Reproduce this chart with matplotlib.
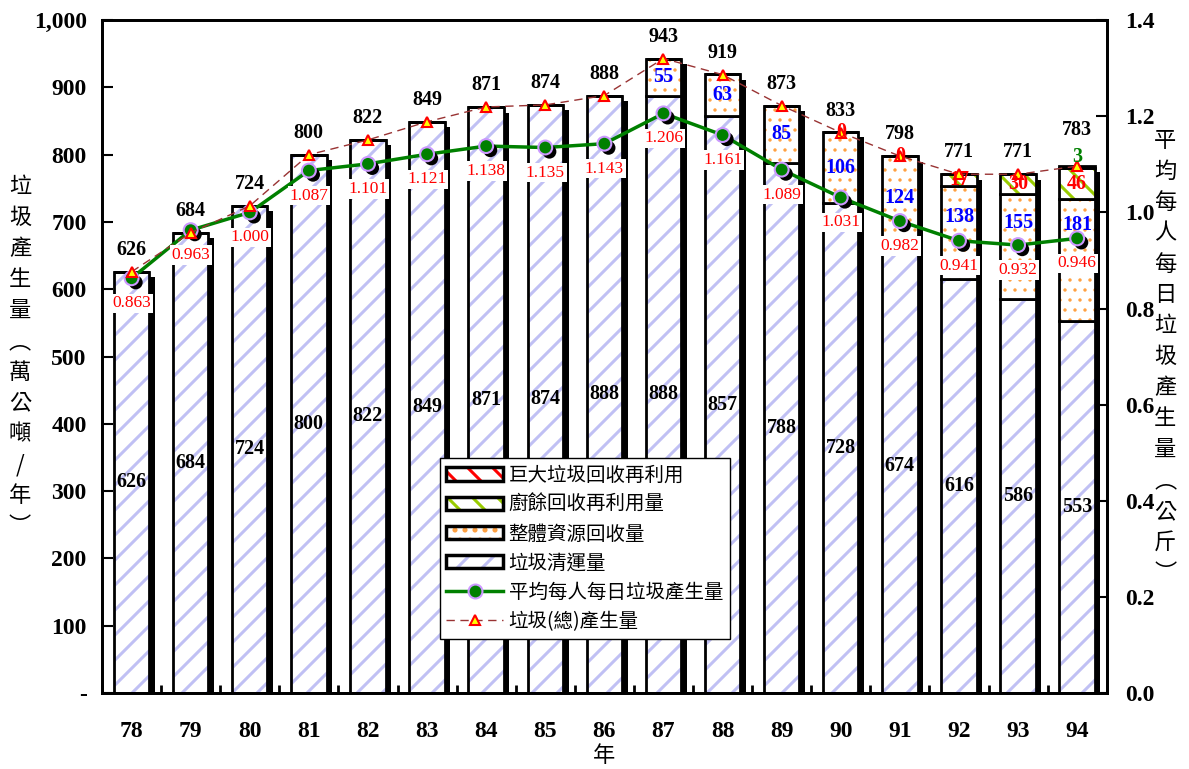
import numpy as np
import matplotlib
matplotlib.use('Agg')
import matplotlib.pyplot as plt
import matplotlib.patheffects as pe
import matplotlib.hatch as mhatch
from matplotlib.patches import Patch
from matplotlib.lines import Line2D
from matplotlib.ticker import FuncFormatter, MultipleLocator

# --- data (民國年) ---
years = ['78', '79', '80', '81', '82', '83', '84', '85', '86',
         '87', '88', '89', '90', '91', '92', '93', '94']
total = [626, 684, 724, 800, 822, 849, 871, 874, 888,
         943, 919, 873, 833, 798, 771, 771, 783]
collected = [626, 684, 724, 800, 822, 849, 871, 874, 888,
             888, 857, 788, 728, 674, 616, 586, 553]
recycled = [None, None, None, None, None, None, None, None, None,
            55, 63, 85, 106, 124, 138, 155, 181]
food = [None, None, None, None, None, None, None, None, None,
        None, None, None, 0, 0, 17, 30, 46]
bulky = [None, None, None, None, None, None, None, None, None,
         None, None, None, None, None, None, None, 3]
per_capita = [0.863, 0.963, 1.000, 1.087, 1.101, 1.121, 1.138, 1.135, 1.143,
              1.206, 1.161, 1.089, 1.031, 0.982, 0.941, 0.932, 0.946]

# label nudges (pixels) where the original chart moved labels by hand
rec_label_up = [0, 0, 0, 0, 0, 0, 0, 0, 0, 0, 0, 0, 0, 0, 15, 24, 35]

SERIF = 'Liberation Serif'
CJK = ['Noto Sans CJK TC', 'DejaVu Sans']
plt.rcParams['hatch.linewidth'] = 2.2

# sparser stripes, denser dots than matplotlib's default hatch density
_orig_get_path = mhatch.get_path
mhatch.get_path = lambda pattern, density=6: _orig_get_path(pattern, 10 if '.' in pattern else 8)


def nz(a):
    return np.array([0 if v is None else v for v in a], dtype=float)


x = np.arange(len(years))
col = np.array(collected, dtype=float)
rec = nz(recycled)
fw = nz(food)
bk = nz(bulky)
w = 0.6

fig = plt.figure(figsize=(11.89, 7.69), dpi=100)
ax = fig.add_axes([0.0858, 0.0988, 0.845, 0.875])
ax2 = ax.twinx()

# shadow behind each bar
ax.bar(x, col + rec + fw + bk, w, color='k', linewidth=0,
       path_effects=[pe.SimplePatchShadow(offset=(4, -4), shadow_rgbFace='k', alpha=1.0)])

BLUE_H, DOT_H, GREEN_H, RED_H = '#c0c0f4', '#ffa040', '#99cc00', '#ff0000'
layers = [
    (col, 0, BLUE_H, '/', None),
    (rec, col, DOT_H, '.', 1.0),
    (fw, col + rec, GREEN_H, '\\', None),
    (bk, col + rec + fw, RED_H, '\\', None),
]
for h, b, c, ht, hlw in layers:
    bars = ax.bar(x, h, w, bottom=b, facecolor='white', edgecolor=c, hatch=ht, linewidth=0)
    if hlw is not None:
        for p in bars:
            if hasattr(p, 'set_hatch_linewidth'):
                p.set_hatch_linewidth(hlw)
    ax.bar(x, h, w, bottom=b, fill=False, edgecolor='k', linewidth=2)

# per capita line (right axis)
ax2.plot(x, per_capita, color='#008000', lw=2.5, zorder=3)
ax2.plot(x, per_capita, linestyle='none', marker='o', ms=10, mfc='#008000',
         mec='#cc99ff', mew=1.5, zorder=4,
         path_effects=[pe.withSimplePatchShadow(offset=(3, -3), shadow_rgbFace='k', alpha=1.0)])

# total line (left axis units)
ax2.plot(x, total, transform=ax.transData, color='#993333', lw=1, ls=(0, (6, 4)),
         marker='^', ms=7, mfc='#ffff00', mec='#ff0000', mew=1.5, zorder=5)

# labels
for i in range(len(years)):
    top_off = 22 if bulky[i] is None else 36
    ax2.annotate(str(total[i]), (i, total[i]), xycoords=ax.transData,
                 xytext=(0, top_off), textcoords='offset pixels', ha='center', va='center',
                 fontsize=14.5, fontweight='bold', family=SERIF, zorder=7)
    ax2.annotate(str(collected[i]), (i, col[i] / 2), xycoords=ax.transData,
                 ha='center', va='center', fontsize=14.5, fontweight='bold',
                 family=SERIF, zorder=7)
    if recycled[i] is not None:
        ax2.annotate(str(recycled[i]), (i, col[i] + rec[i] / 2), xycoords=ax.transData,
                     xytext=(0, rec_label_up[i]), textcoords='offset pixels',
                     ha='center', va='center', fontsize=14.5, fontweight='bold',
                     family=SERIF, color='#0000ff', zorder=7)
    if food[i] is not None:
        ax2.annotate(str(food[i]), (i, col[i] + rec[i] + fw[i] / 2), xycoords=ax.transData,
                     ha='center', va='center', fontsize=14.5, fontweight='bold',
                     family=SERIF, color='#ff0000', zorder=7)
    if bulky[i] is not None:
        ax2.annotate(str(bulky[i]), (i, col[i] + rec[i] + fw[i] + bk[i]), xycoords=ax.transData,
                     xytext=(0, 9), textcoords='offset pixels',
                     ha='center', va='center', fontsize=14.5, fontweight='bold',
                     family=SERIF, color='#008000', zorder=7)
    ax2.annotate(f'{per_capita[i]:.3f}', (i, per_capita[i]), xytext=(0, -25),
                 textcoords='offset pixels', ha='center', va='center', color='#ff0000',
                 fontsize=12.5, family=SERIF, zorder=6,
                 bbox=dict(boxstyle='square,pad=0.1', fc='white', ec='none'))

# axes
ax.set_xlim(-0.5, len(years) - 0.5)
ax.set_ylim(0, 1000)
ax2.set_ylim(0, 1.4)
ax.yaxis.set_major_locator(MultipleLocator(100))
ax.yaxis.set_major_formatter(FuncFormatter(lambda v, p: '-' if v == 0 else f'{int(v):,}'))
ax2.yaxis.set_major_locator(MultipleLocator(0.2))
ax2.yaxis.set_major_formatter(FuncFormatter(lambda v, p: f'{v:.1f}'))
ax.set_xticks(x)
ax.set_xticklabels(years)
ax.set_xticks(np.arange(-0.5, len(years), 1.0), minor=True)
ax.tick_params(axis='x', which='major', length=0, pad=20)
ax.tick_params(axis='x', which='minor', direction='in', length=6, width=2)
ax.tick_params(axis='y', direction='in', length=8, width=1.5, pad=11)
ax2.tick_params(axis='y', direction='in', length=8, width=1.5, pad=13)
for lab in ax.get_xticklabels() + ax.get_yticklabels() + ax2.get_yticklabels():
    lab.set_fontfamily(SERIF)
    lab.set_fontweight('bold')
    lab.set_fontsize(17)
for a in (ax, ax2):
    for s in a.spines.values():
        s.set_linewidth(2)

fig.text(0.0168, 0.536, '\n'.join('垃圾產生量︵萬公噸/年︶'), ha='center', va='center',
         fontsize=16, family=CJK, linespacing=1.44)
fig.text(0.98, 0.536, '\n'.join('平均每人每日垃圾產生量︵公斤︶'), ha='center', va='center',
         fontsize=16, family=CJK, linespacing=1.44)
fig.text(0.508, 0.018, '年', ha='center', va='center', fontsize=16, family=CJK)

# legend
def box(color, hatch):
    return (Patch(facecolor='white', edgecolor=color, hatch=hatch, linewidth=0),
            Patch(fill=False, edgecolor='k', linewidth=2.5))


handles = [
    box(RED_H, '\\'),
    box(GREEN_H, '\\'),
    box(DOT_H, '.'),
    box(BLUE_H, '/'),
    Line2D([], [], color='#008000', lw=2.5, marker='o', ms=10, mfc='#008000',
           mec='#cc99ff', mew=1.5),
    Line2D([], [], color='#993333', lw=1, ls=(0, (6, 4)), marker='^', ms=7,
           mfc='#ffff00', mec='#ff0000', mew=1.5),
]
for hp in handles[2]:
    if hasattr(hp, 'set_hatch_linewidth'):
        hp.set_hatch_linewidth(1.0)
labels = ['巨大垃圾回收再利用', '廚餘回收再利用量', '整體資源回收量', '垃圾清運量',
          '平均每人每日垃圾產生量', '垃圾(總)產生量']
leg = ax2.legend(handles, labels, loc='upper left', bbox_to_anchor=(0.336, 0.349),
                 borderaxespad=0, prop={'family': CJK, 'size': 14}, handlelength=2.9,
                 handletextpad=0.3, labelspacing=0.42, borderpad=0.35, fancybox=False,
                 framealpha=1, edgecolor='k')
leg.get_frame().set_linewidth(1)
leg.set_zorder(10)

fig.savefig('out.png', dpi=100)
